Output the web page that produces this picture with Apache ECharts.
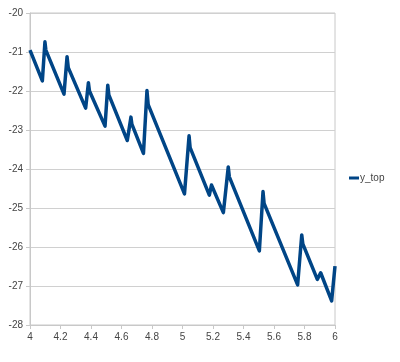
<!DOCTYPE html>
<html>
<head>
<meta charset="utf-8">
<script src="https://cdn.jsdelivr.net/npm/echarts@6/dist/echarts.min.js"></script>
<style>html,body{margin:0;padding:0;background:#fff}#c{width:400px;height:362px}</style>
</head>
<body>
<div id="c"></div>
<script>
var seriesName = 'y_top';
var xs = [4.0, 4.081, 4.098, 4.104, 4.223, 4.243, 4.251, 4.365, 4.383, 4.39, 4.492, 4.51, 4.517, 4.638, 4.662, 4.668, 4.744, 4.767, 4.775, 5.013, 5.043, 5.05, 5.176, 5.19, 5.268, 5.30, 5.307, 5.504, 5.528, 5.535, 5.755, 5.782, 5.789, 5.884, 5.906, 5.978, 6.0];
var ys = [-20.95, -21.74, -20.74, -20.95, -22.08, -21.12, -21.4, -22.44, -21.79, -22.0, -22.9, -21.85, -22.1, -23.27, -22.67, -22.85, -23.6, -21.99, -22.35, -24.64, -23.15, -23.45, -24.67, -24.41, -25.12, -23.95, -24.2, -26.1, -24.58, -24.88, -26.97, -25.69, -25.92, -26.83, -26.66, -27.38, -26.49];
var xTicks = [4, 4.2, 4.4, 4.6, 4.8, 5, 5.2, 5.4, 5.6, 5.8, 6];
var yTicks = [-28, -27, -26, -25, -24, -23, -22, -21, -20];

var data = xs.map(function (x, i) { return [x, ys[i]]; });
var chart = echarts.init(document.getElementById('c'), null, {renderer: 'canvas'});
var labelStyle = {color: '#444', fontSize: 10, fontFamily: 'Liberation Sans, Arial, sans-serif'};
chart.setOption({
  animation: false,
  backgroundColor: '#fff',
  grid: {left: 30, right: 65, top: 13, bottom: 37, show: true, borderColor: '#c8c8c8', borderWidth: 1},
  legend: {
    left: 349, top: 173, padding: 0, itemWidth: 10, itemHeight: 3, itemGap: 0,
    icon: 'rect',
    textStyle: Object.assign({padding: [0, 0, 0, -4]}, labelStyle),
    data: [seriesName]
  },
  xAxis: {
    type: 'value', min: xTicks[0], max: xTicks[xTicks.length - 1], interval: 0.2,
    axisLine: {show: true, onZero: false, lineStyle: {color: '#c8c8c8'}},
    axisTick: {show: true, length: 4, lineStyle: {color: '#c8c8c8'}},
    splitLine: {show: false},
    axisLabel: Object.assign({margin: 7, formatter: function (v) { return String(+v.toFixed(1)); }}, labelStyle)
  },
  yAxis: {
    type: 'value', min: yTicks[0], max: yTicks[yTicks.length - 1], interval: 1,
    axisLine: {show: true, lineStyle: {color: '#c8c8c8'}},
    axisTick: {show: true, length: 4, lineStyle: {color: '#c8c8c8'}},
    splitLine: {show: true, lineStyle: {color: '#d0d0d0'}},
    axisLabel: Object.assign({margin: 7}, labelStyle)
  },
  series: [{
    name: seriesName, type: 'line', data: data, showSymbol: false, symbol: 'none',
    lineStyle: {color: '#004586', width: 3.5, join: 'round'},
    itemStyle: {color: '#004586'}
  }]
});
</script>
</body>
</html>
